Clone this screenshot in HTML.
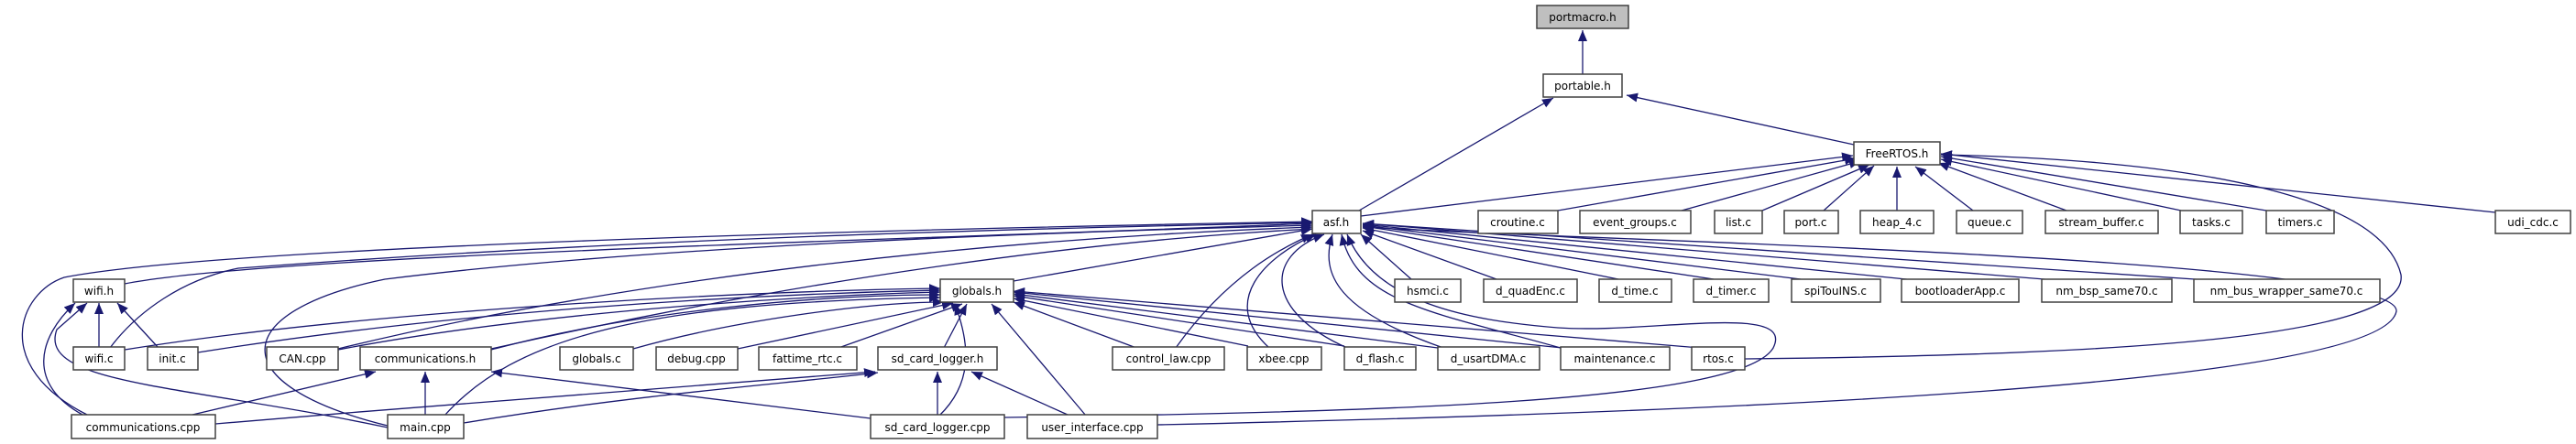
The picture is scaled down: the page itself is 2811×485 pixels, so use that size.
<!DOCTYPE html>
<html><head><meta charset="utf-8"><style>
html,body{margin:0;padding:0;background:#fff;}
svg{display:block;}
text{font-family:"DejaVu Sans","Liberation Sans",sans-serif;font-size:12px;fill:#000;text-anchor:middle;}
.b{fill:#fff;stroke:#404040;stroke-width:1.5;}
.e{fill:none;stroke:#191970;stroke-width:1.3;marker-end:url(#a);}
</style></head><body>
<svg width="2811" height="485" viewBox="0 0 2811 485" xmlns="http://www.w3.org/2000/svg">
<defs><marker id="a" markerUnits="userSpaceOnUse" markerWidth="14" markerHeight="12" refX="12" refY="5" orient="auto"><path d="M0,0 L12,5 L0,10 z" fill="#191970"/></marker></defs>
<g>
<path class="e" d="M1727,81 L1727,33"/>
<path class="e" d="M1483,230 L1695,107"/>
<path class="e" d="M2023,158 L1775,104"/>
<path class="e" d="M1485,236 L2022,170"/>
<path class="e" d="M1700,230 L2025,173"/>
<path class="e" d="M1835,230 L2030,176"/>
<path class="e" d="M1923,230 L2040,180"/>
<path class="e" d="M1990,230 L2045,181"/>
<path class="e" d="M2070,230 L2070,182"/>
<path class="e" d="M2153,230 L2090,182"/>
<path class="e" d="M2255,230 L2115,178"/>
<path class="e" d="M2380,230 L2118,174"/>
<path class="e" d="M2473,230 L2118,171"/>
<path class="e" d="M2723,232 L2118,168"/>
<path class="e" d="M1904,392 C2300,388 2630,370 2620,300 C2600,215 2400,175 2118,169"/>
<path class="e" d="M1540,305 L1485,256"/>
<path class="e" d="M1633,305 L1487,252"/>
<path class="e" d="M1766,305 L1487,249"/>
<path class="e" d="M1870,305 L1487,247"/>
<path class="e" d="M1965,305 L1487,246"/>
<path class="e" d="M2090,306 L1487,245"/>
<path class="e" d="M2243,306 L1487,244"/>
<path class="e" d="M2410,306 L1487,244"/>
<path class="e" d="M1263,464 C1900,450 2600,420 2615,340 C2620,280 1700,262 1487,248"/>
<path class="e" d="M1106,307 L1432,250"/>
<path class="e" d="M136,310 C300,278 1000,262 1432,244"/>
<path class="e" d="M95,453 C-10,400 20,320 70,303 C250,268 1000,250 1432,242"/>
<path class="e" d="M120,380 C150,340 200,305 260,293 C700,260 1100,250 1432,243"/>
<path class="e" d="M423,465 C240,420 250,340 420,305 C700,270 1100,255 1432,246"/>
<path class="e" d="M369,381 C700,300 1100,260 1432,248"/>
<path class="e" d="M536,381 C900,300 1200,262 1432,250"/>
<path class="e" d="M1283,380 C1340,300 1400,270 1432,256"/>
<path class="e" d="M1385,380 C1330,330 1380,280 1436,256"/>
<path class="e" d="M1470,380 C1380,340 1380,280 1445,256"/>
<path class="e" d="M1575,380 C1460,340 1440,300 1454,256"/>
<path class="e" d="M1703,380 C1560,340 1480,330 1464,256"/>
<path class="e" d="M1096,456 C1500,450 1900,440 1935,380 C1960,330 1800,365 1700,358 C1600,350 1500,330 1470,256"/>
<path class="e" d="M136,382 C400,340 800,318 1026,315"/>
<path class="e" d="M216,385 C500,340 800,322 1026,317"/>
<path class="e" d="M369,382 C600,338 900,322 1026,319"/>
<path class="e" d="M536,382 C700,338 900,322 1026,322"/>
<path class="e" d="M485,454 C560,370 700,330 1026,325"/>
<path class="e" d="M691,381 C800,350 950,330 1030,330"/>
<path class="e" d="M805,381 L1040,331"/>
<path class="e" d="M915,380 L1050,332"/>
<path class="e" d="M1030,380 L1055,332"/>
<path class="e" d="M1025,454 C1060,420 1060,380 1042,332"/>
<path class="e" d="M1185,454 L1082,332"/>
<path class="e" d="M1240,380 L1106,330"/>
<path class="e" d="M1362,378 L1106,326"/>
<path class="e" d="M1467,378 L1106,323"/>
<path class="e" d="M1569,380 L1106,321"/>
<path class="e" d="M1705,380 L1106,319"/>
<path class="e" d="M1855,380 L1106,318"/>
<path class="e" d="M108,379 L108,331"/>
<path class="e" d="M172,379 L128,331"/>
<path class="e" d="M90,453 C30,420 40,370 82,331"/>
<path class="e" d="M423,467 C200,420 40,420 62,360 L95,331"/>
<path class="e" d="M210,453 L410,406"/>
<path class="e" d="M464,453 L464,406"/>
<path class="e" d="M950,457 L536,406"/>
<path class="e" d="M235,463 C500,440 800,420 955,406"/>
<path class="e" d="M506,462 C700,430 850,420 958,407"/>
<path class="e" d="M1023,453 L1023,406"/>
<path class="e" d="M1165,453 L1060,406"/>
</g>
<g>
<rect x="1677" y="6" width="100" height="25" style="fill:#bfbfbf;stroke:#404040;stroke-width:1.5"/><text x="1727" y="23">portmacro.h</text>
<rect class="b" x="1684" y="81" width="86" height="25"/><text x="1727" y="98">portable.h</text>
<rect class="b" x="2023" y="155" width="94" height="25"/><text x="2070" y="172">FreeRTOS.h</text>
<rect class="b" x="1432" y="230" width="53" height="25"/><text x="1458" y="247">asf.h</text>
<rect class="b" x="1613" y="230" width="87" height="25"/><text x="1656" y="247">croutine.c</text>
<rect class="b" x="1724" y="230" width="121" height="25"/><text x="1784" y="247">event_groups.c</text>
<rect class="b" x="1871" y="230" width="52" height="25"/><text x="1897" y="247">list.c</text>
<rect class="b" x="1947" y="230" width="59" height="25"/><text x="1976" y="247">port.c</text>
<rect class="b" x="2030" y="230" width="80" height="25"/><text x="2070" y="247">heap_4.c</text>
<rect class="b" x="2135" y="230" width="72" height="25"/><text x="2171" y="247">queue.c</text>
<rect class="b" x="2232" y="230" width="123" height="25"/><text x="2293" y="247">stream_buffer.c</text>
<rect class="b" x="2379" y="230" width="68" height="25"/><text x="2413" y="247">tasks.c</text>
<rect class="b" x="2473" y="230" width="74" height="25"/><text x="2510" y="247">timers.c</text>
<rect class="b" x="2723" y="230" width="82" height="25"/><text x="2764" y="247">udi_cdc.c</text>
<rect class="b" x="80" y="305" width="56" height="25"/><text x="108" y="322">wifi.h</text>
<rect class="b" x="1026" y="305" width="80" height="25"/><text x="1066" y="322">globals.h</text>
<rect class="b" x="1522" y="305" width="72" height="25"/><text x="1558" y="322">hsmci.c</text>
<rect class="b" x="1619" y="305" width="102" height="25"/><text x="1670" y="322">d_quadEnc.c</text>
<rect class="b" x="1745" y="305" width="79" height="25"/><text x="1784" y="322">d_time.c</text>
<rect class="b" x="1848" y="305" width="82" height="25"/><text x="1889" y="322">d_timer.c</text>
<rect class="b" x="1955" y="305" width="97" height="25"/><text x="2003" y="322">spiTouINS.c</text>
<rect class="b" x="2075" y="305" width="128" height="25"/><text x="2139" y="322">bootloaderApp.c</text>
<rect class="b" x="2228" y="305" width="142" height="25"/><text x="2299" y="322">nm_bsp_same70.c</text>
<rect class="b" x="2394" y="305" width="203" height="25"/><text x="2495" y="322">nm_bus_wrapper_same70.c</text>
<rect class="b" x="80" y="379" width="56" height="25"/><text x="108" y="396">wifi.c</text>
<rect class="b" x="161" y="379" width="55" height="25"/><text x="188" y="396">init.c</text>
<rect class="b" x="291" y="379" width="78" height="25"/><text x="330" y="396">CAN.cpp</text>
<rect class="b" x="393" y="379" width="143" height="25"/><text x="464" y="396">communications.h</text>
<rect class="b" x="611" y="379" width="80" height="25"/><text x="651" y="396">globals.c</text>
<rect class="b" x="716" y="379" width="89" height="25"/><text x="760" y="396">debug.cpp</text>
<rect class="b" x="828" y="379" width="107" height="25"/><text x="881" y="396">fattime_rtc.c</text>
<rect class="b" x="958" y="379" width="130" height="25"/><text x="1023" y="396">sd_card_logger.h</text>
<rect class="b" x="1214" y="379" width="122" height="25"/><text x="1275" y="396">control_law.cpp</text>
<rect class="b" x="1361" y="379" width="81" height="25"/><text x="1401" y="396">xbee.cpp</text>
<rect class="b" x="1467" y="379" width="78" height="25"/><text x="1506" y="396">d_flash.c</text>
<rect class="b" x="1569" y="379" width="111" height="25"/><text x="1624" y="396">d_usartDMA.c</text>
<rect class="b" x="1703" y="379" width="119" height="25"/><text x="1762" y="396">maintenance.c</text>
<rect class="b" x="1846" y="379" width="58" height="25"/><text x="1875" y="396">rtos.c</text>
<rect class="b" x="78" y="453" width="157" height="26"/><text x="156" y="471">communications.cpp</text>
<rect class="b" x="423" y="453" width="83" height="26"/><text x="464" y="471">main.cpp</text>
<rect class="b" x="950" y="453" width="146" height="26"/><text x="1023" y="471">sd_card_logger.cpp</text>
<rect class="b" x="1121" y="453" width="142" height="26"/><text x="1192" y="471">user_interface.cpp</text>
</g>
</svg>
</body></html>
